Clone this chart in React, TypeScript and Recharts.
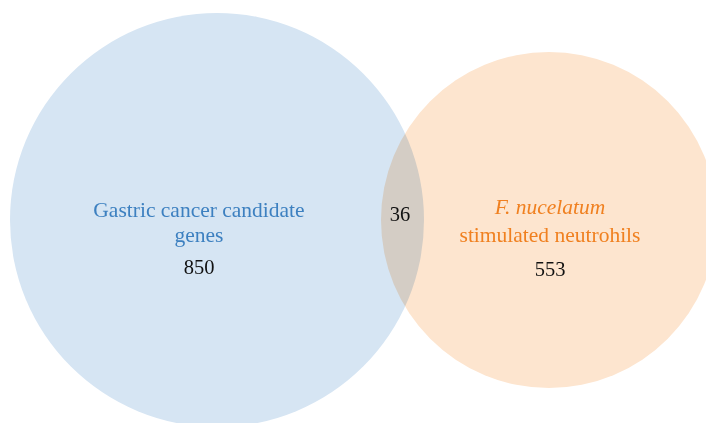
import React from "react";
import { ScatterChart, Scatter, XAxis, YAxis } from "recharts";

// ---- data -------------------------------------------------------------------

const setNames = ["Gastric cancer candidate genes", "F. nucelatum stimulated neutrohils"];
const setOnly = [850, 553];
const overlap = 36;

// ---- layout (pixels == data units, axes are hidden) -------------------------

const W = 706;
const H = 423;
const FONT = "'Liberation Serif', 'DejaVu Serif', serif";

const circles = [
  { x: 217, y: 220, r: 207, fill: "#d6e5f3", text: "#3d80c0", i: 0 },
  { x: 549, y: 220, r: 168, fill: "#fde5cf", text: "#f08020", i: 1 },
];
const overlapSpot = [{ x: 400, y: 214 }];

function CircleShape(props: any) {
  const { cx, cy, payload } = props;
  return (
    <circle
      cx={cx}
      cy={cy}
      r={payload.r}
      fill={payload.fill}
      style={{ mixBlendMode: "multiply" }}
    />
  );
}

function SetLabel(props: any) {
  const { cx, cy, payload } = props;
  const i = payload.i;
  const count = setOnly[i];
  if (i === 0) {
    const ox = cx - 18;
    return (
      <g fontFamily={FONT} textAnchor="middle">
        <text x={ox} y={cy - 3} fontSize={21.5} fill={payload.text}>
          Gastric cancer candidate
        </text>
        <text x={ox} y={cy + 22} fontSize={21.5} fill={payload.text}>
          genes
        </text>
        <text x={ox} y={cy + 54} fontSize={20.5} fill="#111">
          {count}
        </text>
      </g>
    );
  }
  return (
    <g fontFamily={FONT} textAnchor="middle">
      <text x={cx + 1} y={cy - 6} fontSize={21.5} fill={payload.text} fontStyle="italic">
        F. nucelatum
      </text>
      <text x={cx + 1} y={cy + 22} fontSize={21.5} fill={payload.text}>
        stimulated neutrohils
      </text>
      <text x={cx + 1} y={cy + 56} fontSize={20.5} fill="#111">
        {count}
      </text>
    </g>
  );
}

function OverlapLabel(props: any) {
  const { cx, cy } = props;
  return (
    <text x={cx} y={cy + 7} textAnchor="middle" fontFamily={FONT} fontSize={20.5} fill="#111">
      {overlap}
    </text>
  );
}

export default function App() {
  return (
    <div style={{ position: "absolute", left: 0, top: 0, width: W, height: H, background: "#fff" }}>
      <ScatterChart width={W} height={H} margin={{ top: 0, right: 0, bottom: 0, left: 0 }}>
        <XAxis type="number" dataKey="x" domain={[0, W]} hide />
        <YAxis type="number" dataKey="y" domain={[0, H]} reversed hide />
        <Scatter name={setNames[0]} data={circles} shape={CircleShape} isAnimationActive={false} />
        <Scatter data={circles} shape={SetLabel} isAnimationActive={false} />
        <Scatter data={overlapSpot} shape={OverlapLabel} isAnimationActive={false} />
      </ScatterChart>
    </div>
  );
}
